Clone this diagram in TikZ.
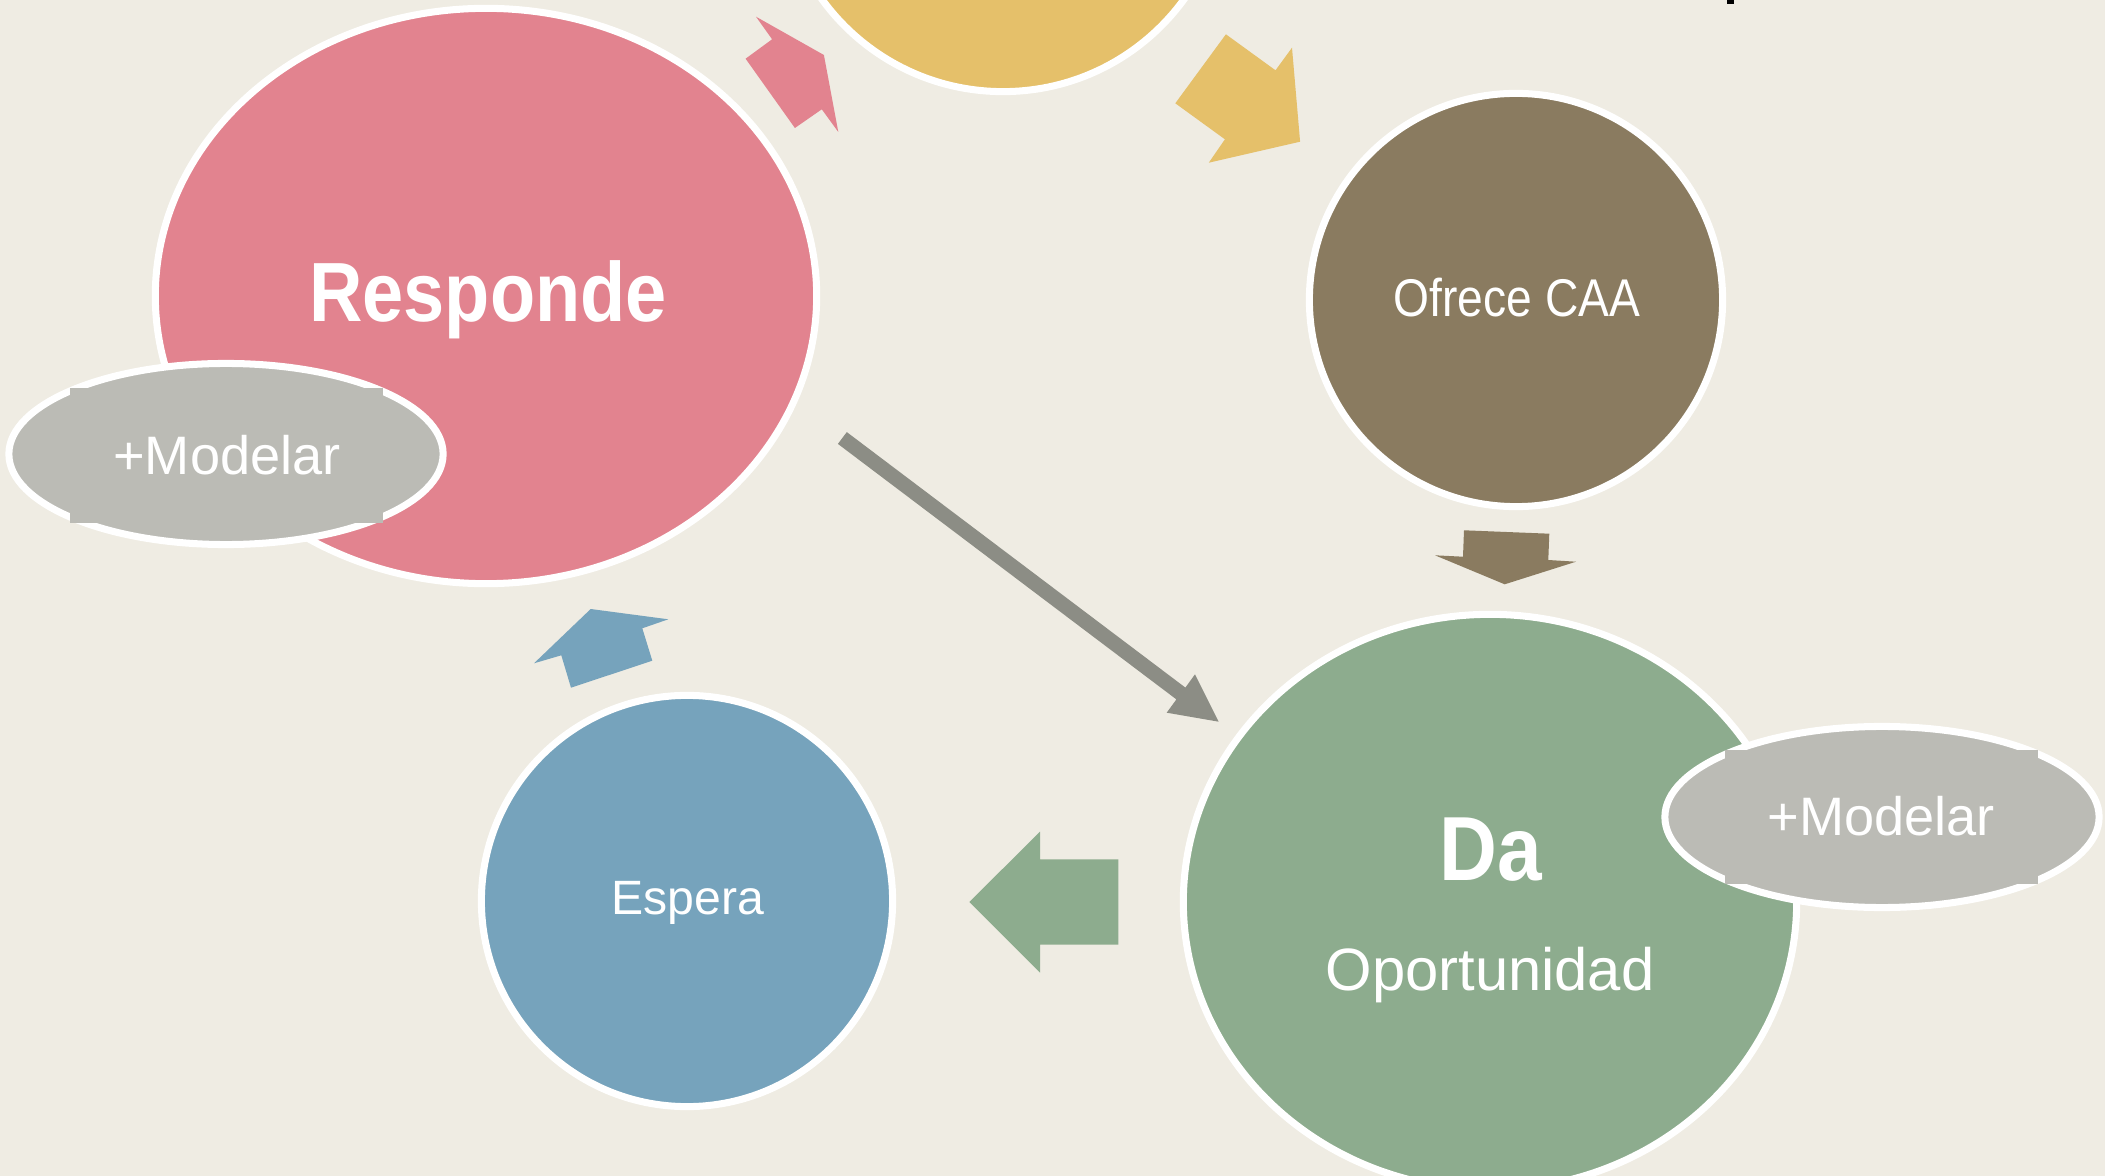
\documentclass[tikz,border=0pt]{standalone}
\usepackage{fontspec}
\setmainfont{Liberation Sans}
\newfontfamily\condbold[FakeStretch=0.88]{Liberation Sans Bold}
\newfontfamily\condreg[FakeStretch=0.87]{Liberation Sans}
\definecolor{bgc}{HTML}{EFECE3}
\definecolor{pinkc}{HTML}{E2838F}
\definecolor{yellowc}{HTML}{E5C06A}
\definecolor{brownc}{HTML}{8A7B60}
\definecolor{greenc}{HTML}{8DAC8E}
\definecolor{bluec}{HTML}{76A3BC}
\definecolor{modc}{HTML}{BBBBB5}
\definecolor{arrc}{HTML}{8C8D85}
\tikzset{
  blob/.style={draw=white, line width=2pt},
  lbl/.style={text=white, anchor=base, inner sep=0pt},
}
\begin{document}
\begin{tikzpicture}[x=0.01cm,y=-0.01cm]
\useasboundingbox (0,0) rectangle (2105,1176);
\clip (0,0) rectangle (2105,1176);
\fill[bgc] (0,0) rectangle (2105,1176);
% big shapes
\filldraw[blob, fill=yellowc] (1003,-132) circle[radius=2.235cm];
\filldraw[blob, fill=pinkc] (486,296) ellipse[x radius=3.305cm, y radius=2.875cm];
\filldraw[blob, fill=brownc] (1516,300) circle[radius=2.065cm];
\filldraw[blob, fill=bluec] (687,901) circle[radius=2.055cm];
\filldraw[blob, fill=greenc] (1490,902) ellipse[x radius=3.065cm, y radius=2.875cm];
% Modelar ellipses
\filldraw[blob, fill=modc] (226,454) ellipse[x radius=2.17cm, y radius=0.905cm];
\fill[modc] (70,388) rectangle (383,523);
\filldraw[blob, fill=modc] (1882,817) ellipse[x radius=2.17cm, y radius=0.905cm];
\fill[modc] (1725,750) rectangle (2038,884);
% block arrows
\fill[pinkc] (756,16.7) -- (772.1,39.3) -- (745.6,58.7) -- (794.9,128) -- (821.8,109.3) -- (838.3,132) -- (823.9,55) -- cycle;
\fill[yellowc] (1225.9,34.3) -- (1275.5,70.3) -- (1292,47.7) -- (1300.1,141.7) -- (1208.8,162.7) -- (1224.9,139.3) -- (1175.3,103.3) -- cycle;
\fill[brownc] (1464,530.3) -- (1549.3,533.7) -- (1548.3,560) -- (1576,561.7) -- (1504.7,584.3) -- (1435,555.3) -- (1463,556.7) -- cycle;
\fill[greenc] (969.3,902) -- (1040,831.7) -- (1040,859.3) -- (1118.3,859.3) -- (1118.3,944.7) -- (1040,944.7) -- (1040,972.7) -- cycle;
\fill[bluec] (534,663.3) -- (590.7,609) -- (668.3,619.3) -- (642.3,628.3) -- (652.3,660.7) -- (571,687.7) -- (561.3,655.3) -- cycle;
\fill[arrc] (846.8,432.1) -- (1185.4,687.6) -- (1195,674.3) -- (1218.7,721.7) -- (1166.7,712.7) -- (1176.4,699.4) -- (837.9,443.9) -- cycle;
\fill[black] (1727,0) rectangle (1734,4);
% labels
\node[lbl, font=\condbold\fontsize{23.9pt}{28pt}\selectfont] (responde) at (488,322) {Responde};
\node[lbl, font=\fontsize{15.4pt}{18pt}\selectfont] (mod1) at (227,474) {+Modelar};
\node[lbl, font=\fontsize{15.4pt}{18pt}\selectfont] (mod2) at (1881,835) {+Modelar};
\node[lbl, font=\condreg\fontsize{15.1pt}{18pt}\selectfont] (ofrece) at (1517,317) {Ofrece CAA};
\node[lbl, font=\fontsize{13.7pt}{16pt}\selectfont] (espera) at (688,914) {Espera};
\node[lbl, font=\condbold\fontsize{25.9pt}{30pt}\selectfont] (da) at (1491,880) {Da};
\node[lbl, font=\fontsize{17pt}{20pt}\selectfont] (oport) at (1490,990) {Oportunidad};
\end{tikzpicture}
\end{document}
